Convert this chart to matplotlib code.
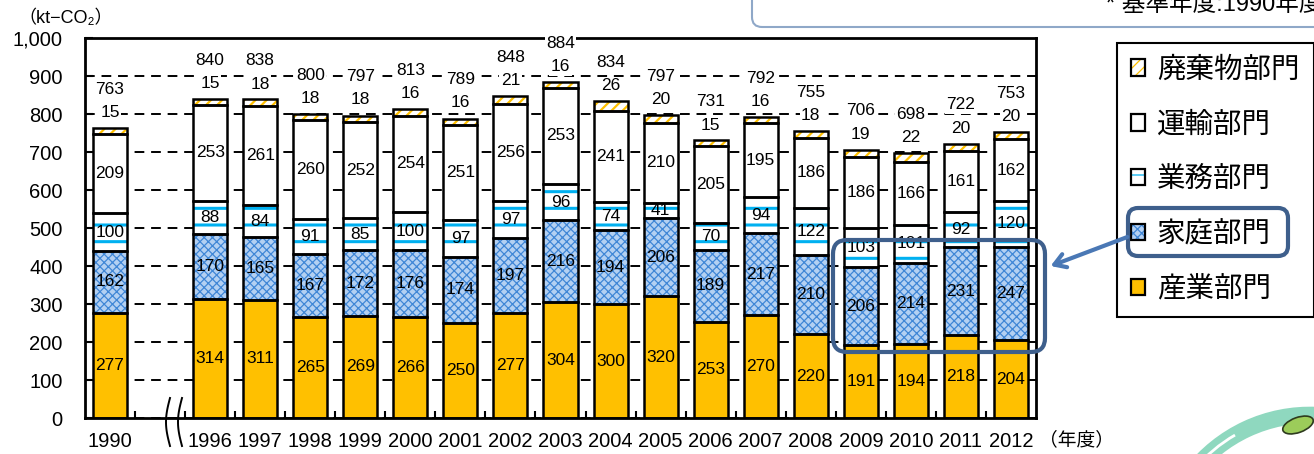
import numpy as np
import matplotlib
matplotlib.use('Agg')
import matplotlib.pyplot as plt
from matplotlib.patches import FancyBboxPatch, Patch, FancyArrowPatch, Ellipse, Arc
from matplotlib.legend_handler import HandlerTuple

plt.rcParams['font.family'] = ['Liberation Sans', 'Noto Sans CJK JP', 'DejaVu Sans']
plt.rcParams['hatch.linewidth'] = 0.9

# data (kt-CO2), 1990 then 1996-2012
years = ['1990', '1996', '1997', '1998', '1999', '2000', '2001', '2002', '2003',
         '2004', '2005', '2006', '2007', '2008', '2009', '2010', '2011', '2012']
industry = [277, 314, 311, 265, 269, 266, 250, 277, 304, 300, 320, 253, 270, 220, 191, 194, 218, 204]
household = [162, 170, 165, 167, 172, 176, 174, 197, 216, 194, 206, 189, 217, 210, 206, 214, 231, 247]
business = [100, 88, 84, 91, 85, 100, 97, 97, 96, 74, 41, 70, 94, 122, 103, 101, 92, 120]
transport = [209, 253, 261, 260, 252, 254, 251, 256, 253, 241, 210, 205, 195, 186, 186, 166, 161, 162]
waste = [15, 15, 18, 18, 18, 16, 16, 21, 16, 26, 20, 15, 16, 18, 19, 22, 20, 20]
total = [763, 840, 838, 800, 797, 813, 789, 848, 884, 834, 797, 731, 792, 755, 706, 698, 722, 753]

W, H = 1314, 454
fig = plt.figure(figsize=(W / 100, H / 100), dpi=100)
ax = fig.add_axes([85 / W, 1 - 418 / H, (1036 - 85) / W, (418 - 38) / H])

# slot 1 is left empty (break between 1990 and 1996)
x = np.array([0] + [i + 2 for i in range(len(years) - 1)])
width = 0.68

sectors = [
    ('産業部門', industry, '#FFC000', None, '#FFC000', 1),
    ('家庭部門', household, '#b3d0f2', 'xxxx', '#3f86d6', 0.9),
    ('業務部門', business, 'white', '-', '#00B0F0', 2.2),
    ('運輸部門', transport, 'white', None, 'white', 1),
    ('廃棄物部門', waste, 'white', '///', '#FFC000', 1.6),
]

handles = {}
bottom = np.zeros(len(x))
for name, vals, fc, hatch, hc, hlw in sectors:
    vals = np.array(vals)
    with plt.rc_context({'hatch.linewidth': hlw}):
        ax.bar(x, vals, width, bottom=bottom, color=fc, hatch=hatch,
               edgecolor=hc, linewidth=0, zorder=2)
        hp = Patch(facecolor=fc, hatch=hatch, edgecolor=hc, linewidth=0)
    ax.bar(x, vals, width, bottom=bottom, fill=False,
           edgecolor='black', linewidth=1.8, zorder=3)
    handles[name] = (hp, Patch(fill=False, edgecolor='black', linewidth=1.6))
    if name != '廃棄物部門':
        for xi, v, b in zip(x, vals, bottom):
            ax.text(xi, b + v / 2, str(v), ha='center', va='center',
                    fontsize=12.5, zorder=4)
    bottom += vals

box = dict(facecolor='white', edgecolor='none', pad=1)
for xi, t, w in zip(x, total, waste):
    ax.text(xi, t + 40, str(w), ha='center', va='center', fontsize=12.5,
            bbox=box, zorder=4)
    ax.text(xi, t + 102, str(t), ha='center', va='center', fontsize=12.5,
            bbox=box, zorder=4)

ax.set_xlim(-0.5, 18.5)
ax.set_ylim(0, 1000)
ax.set_yticks(np.arange(0, 1001, 100))
ax.set_yticklabels(['{:,}'.format(v) for v in range(0, 1001, 100)], fontsize=14.5)
ax.yaxis.grid(True, linestyle=(0, (5, 3.5)), color='black', linewidth=1.4)
ax.set_axisbelow(True)
ax.tick_params(axis='y', direction='in', length=6, width=1.5, pad=16)

ax.set_xticks(x)
ax.set_xticklabels(years, fontsize=14.5)
ax.set_xticks(np.arange(0.5, 18.5, 1), minor=True)
ax.tick_params(axis='x', which='major', length=0, pad=10)
ax.tick_params(axis='x', which='minor', direction='in', length=5, width=1.5)
for s in ax.spines.values():
    s.set_linewidth(2)

ax.text(1.003, -0.058, '（年度）', transform=ax.transAxes, ha='left', va='center', fontsize=13.5)
fig.text(18 / W, 1 - 18 / H, '（kt−CO₂）', ha='left', va='center', fontsize=13)

order = ['廃棄物部門', '運輸部門', '業務部門', '家庭部門', '産業部門']
leg = fig.legend([handles[k] for k in order], order, loc='upper left',
                 bbox_to_anchor=(1117 / W, 1 - 43 / H), fontsize=20.5,
                 handler_map={tuple: HandlerTuple(ndivide=1)},
                 handlelength=0.5, handleheight=0.5, handletextpad=0.4,
                 labelspacing=1.0, borderpad=0.5, borderaxespad=0,
                 fancybox=False, edgecolor='black', framealpha=1)
leg.get_frame().set_linewidth(1.5)

# decorations in pixel coordinates
deco = fig.add_axes([0, 0, 1, 1], zorder=10)
deco.set_xlim(0, W)
deco.set_ylim(H, 0)
deco.axis('off')
deco.patch.set_alpha(0)

deco.add_patch(FancyBboxPatch((752, -30), 600, 57, boxstyle='round,pad=0,rounding_size=10',
                              facecolor='none', edgecolor='#8fa8c8', linewidth=1.5))
deco.text(1106, 5, '* 基準年度:1990年度', ha='left', va='center', fontsize=17)

hl = '#3e5f8c'
deco.add_patch(FancyBboxPatch((833, 240), 212, 112, boxstyle='round,pad=0,rounding_size=14',
                              facecolor='none', edgecolor=hl, linewidth=3))
deco.add_patch(FancyBboxPatch((1128, 208), 160, 48, boxstyle='round,pad=0,rounding_size=10',
                              facecolor='none', edgecolor=hl, linewidth=3))
deco.add_patch(FancyArrowPatch((1130, 236), (1048, 267), arrowstyle='->,head_length=8,head_width=5',
                               color='#4a78b5', linewidth=3))

# axis break marks
yy = np.linspace(398, 446, 40)
for x0 in (170, 182):
    deco.plot(x0 - 4 * np.sin(np.pi * (yy - 398) / 48), yy, color='black', linewidth=1.4)

# logo fragment
deco.add_patch(Arc((1310, 565), 300, 300, theta1=190, theta2=300, color='#8fd8bf', linewidth=12))
deco.add_patch(Arc((1310, 565), 300, 300, theta1=200, theta2=240, color='white', linewidth=2))
deco.add_patch(Ellipse((1298, 425), 32, 15, angle=-20, facecolor='#9ccc5a', edgecolor='#2e3b1e', linewidth=1.2))

fig.savefig('out.png', dpi=100)
